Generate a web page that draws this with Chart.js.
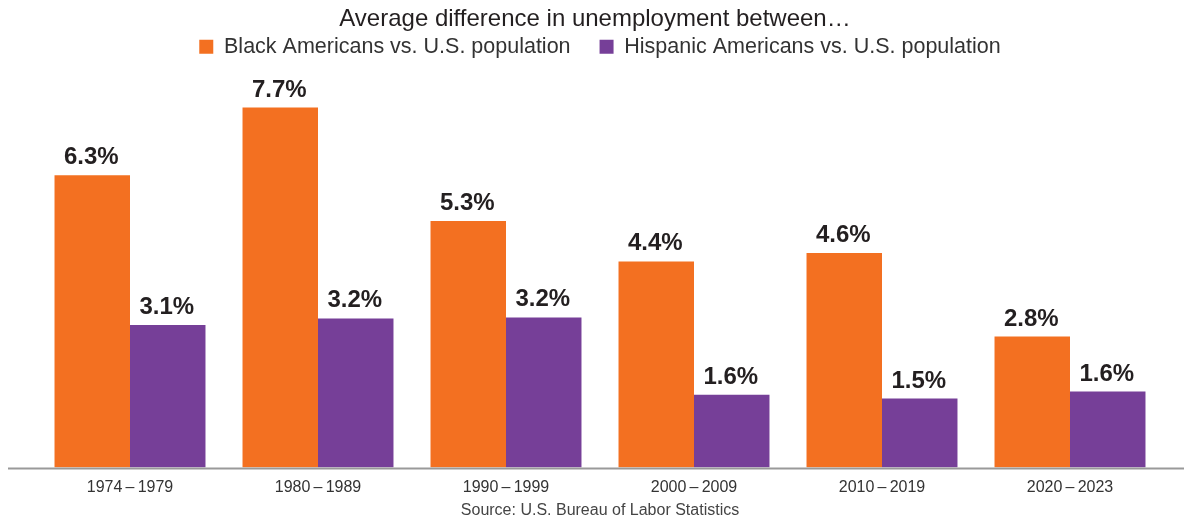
<!DOCTYPE html>
<html>
<head>
<meta charset="utf-8">
<script src="https://cdn.jsdelivr.net/npm/chart.js@4/dist/chart.umd.min.js"></script>
<style>
  html, body { margin: 0; padding: 0; background: #ffffff; }
  #wrap { width: 1184px; height: 522px; position: relative; }
</style>
</head>
<body>
<div id="wrap"><canvas id="c" width="1184" height="522"></canvas></div>
<script>
const categories = ["1974\u2009\u2013\u20091979", "1980\u2009\u2013\u20091989", "1990\u2009\u2013\u20091999", "2000\u2009\u2013\u20092009", "2010\u2009\u2013\u20092019", "2020\u2009\u2013\u20092023"];
const blackGap = [6.27, 7.72, 5.29, 4.42, 4.60, 2.81];
const hispanicGap = [3.06, 3.20, 3.22, 1.56, 1.48, 1.63];
const seriesNames = ["Black Americans vs. U.S. population", "Hispanic Americans vs. U.S. population"];
const titleText = "Average difference in unemployment between\u2026";
const sourceText = "Source: U.S. Bureau of Labor Statistics";

const FONT = "'Liberation Sans', Arial, Helvetica, sans-serif";

const titlePlugin = {
  id: 'titleText',
  afterDraw(chart) {
    const ctx = chart.ctx;
    ctx.save();
    ctx.font = "24px " + FONT;
    ctx.fillStyle = "#231f20";
    ctx.textAlign = "center";
    ctx.textBaseline = "middle";
    ctx.fillText(titleText, 595, 19);
    ctx.restore();
  }
};

const valueLabels = {
  id: 'valueLabels',
  afterDatasetsDraw(chart) {
    const ctx = chart.ctx;
    ctx.save();
    ctx.font = "bold 24px " + FONT;
    ctx.fillStyle = "#231f20";
    ctx.textAlign = "center";
    ctx.textBaseline = "alphabetic";
    chart.data.datasets.forEach((ds, di) => {
      const meta = chart.getDatasetMeta(di);
      meta.data.forEach((el, i) => {
        ctx.fillText(ds.data[i].toFixed(1) + "%", el.x - 1, el.y - 11);
      });
    });
    ctx.restore();
  }
};

const baseLine = {
  id: 'baseLine',
  afterDatasetsDraw(chart) {
    const ctx = chart.ctx;
    const y = chart.scales.y.getPixelForValue(0) + 1;
    ctx.save();
    ctx.strokeStyle = "#999999";
    ctx.lineWidth = 2;
    ctx.beginPath();
    ctx.moveTo(8, y);
    ctx.lineTo(chart.width, y);
    ctx.stroke();
    ctx.restore();
  }
};

new Chart(document.getElementById('c'), {
  type: 'bar',
  data: {
    labels: categories,
    datasets: [
      { label: seriesNames[0], data: blackGap, backgroundColor: "#f37021", borderWidth: 0 },
      { label: seriesNames[1], data: hispanicGap, backgroundColor: "#763f98", borderWidth: 0 }
    ]
  },
  options: {
    responsive: false,
    animation: false,
    devicePixelRatio: 1,
    layout: { padding: { left: 36, right: 20, top: 7, bottom: 0 } },
    datasets: { bar: { barPercentage: 1, categoryPercentage: 0.803 } },
    plugins: {
      title: { display: false },
      legend: {
        display: true,
        position: 'top',
        labels: {
          boxWidth: 14,
          boxHeight: 14,
          padding: 29,
          color: "#333333",
          font: { family: FONT, size: 21.5 }
        }
      },
      subtitle: {
        display: true,
        position: 'bottom',
        text: sourceText,
        color: "#444444",
        font: { family: FONT, size: 16, weight: 'normal' },
        padding: { top: -5.5, bottom: 1.5 }
      },
      tooltip: { enabled: false }
    },
    scales: {
      x: {
        grid: { display: false, drawTicks: false },
        border: { display: false },
        ticks: { color: "#333333", font: { family: FONT, size: 16 }, padding: 10 }
      },
      y: {
        display: false,
        min: 0,
        max: 8.58
      }
    }
  },
  plugins: [valueLabels, baseLine, titlePlugin]
});
</script>
</body>
</html>
